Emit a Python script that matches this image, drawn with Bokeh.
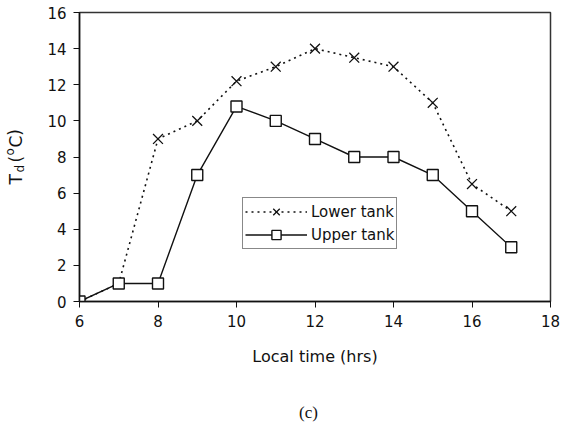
from bokeh.plotting import figure
from bokeh.layouts import column, row
from bokeh.models import Range1d, Legend, LegendItem, FixedTicker
from bokeh.core.properties import value
from bokeh.embed import file_html
from bokeh.resources import INLINE

# Hourly readings (local time) of the temperature difference Td in two tanks
hours = [6, 7, 8, 9, 10, 11, 12, 13, 14, 15, 16, 17]
lower_tank = [0, 1, 9, 10, 12.2, 13, 14, 13.5, 13, 11, 6.5, 5]
upper_tank = [0, 1, 1, 7, 10.8, 10, 9, 8, 8, 7, 5, 3]

x_ticks = [6, 8, 10, 12, 14, 16, 18]
y_ticks = [0, 2, 4, 6, 8, 10, 12, 14, 16]

W, H = 566, 424
YLAB_W = 30          # strip holding the rotated y title
CAP_H = 44           # strip holding the panel caption
MAIN_W, MAIN_H = W - YLAB_W, H - CAP_H
TOP_B, BOT_B = 12, MAIN_H - 301

FONT = "DejaVu Sans"
INK = "#111111"

p = figure(width=MAIN_W, height=MAIN_H, output_backend="svg",
           toolbar_location=None,
           x_range=Range1d(6, 18), y_range=Range1d(0, 16))
p.min_border_left = 79 - YLAB_W
p.min_border_right = 16
p.min_border_top = TOP_B
p.min_border_bottom = BOT_B
p.background_fill_color = "white"
p.border_fill_color = "white"
p.outline_line_color = "#333333"
p.outline_line_width = 1.5
p.xgrid.visible = False
p.ygrid.visible = False

for ax in (p.xaxis[0], p.yaxis[0]):
    ax.axis_line_color = INK
    ax.axis_line_width = 1.5
    ax.major_tick_line_color = INK
    ax.major_tick_in = 0
    ax.major_tick_out = 6
    ax.minor_tick_line_color = None
    ax.major_label_text_font = FONT
    ax.major_label_text_font_size = "15px"
    ax.major_label_text_color = INK

p.xaxis.ticker = FixedTicker(ticks=x_ticks)
p.yaxis.ticker = FixedTicker(ticks=y_ticks)
p.xaxis.major_label_standoff = 7
p.yaxis.major_label_standoff = 7
p.xaxis.axis_label = "Local time (hrs)"
p.xaxis.axis_label_text_font = FONT
p.xaxis.axis_label_text_font_size = "16px"
p.xaxis.axis_label_text_font_style = "normal"
p.xaxis.axis_label_text_color = INK
p.xaxis.axis_label_standoff = 17

# Lower tank: dotted line with crosses
l_line = p.line(hours, lower_tank, line_color=INK, line_width=1.6,
                line_dash="2 4")
l_mark = p.scatter(hours, lower_tank, marker="x", size=14,
                   line_color=INK, line_width=1.3)

# Upper tank: solid line with open squares
u_line = p.line(hours, upper_tank, line_color=INK, line_width=1.4)
u_mark = p.scatter(hours, upper_tank, marker="square", size=11,
                   fill_color="white", line_color=INK, line_width=1.4)

legend = Legend(items=[
    LegendItem(label="Lower tank", renderers=[l_line, l_mark]),
    LegendItem(label="Upper tank", renderers=[u_line, u_mark]),
], location=(163, 52))
legend.label_text_font = FONT
legend.label_text_font_size = "15px"
legend.label_text_color = INK
legend.glyph_width = 62
legend.glyph_height = 23
legend.label_height = 23
legend.label_standoff = 4
legend.spacing = 0
legend.padding = 2
legend.margin = 0
legend.border_line_color = INK
legend.border_line_width = 1.2
legend.background_fill_color = "white"
legend.background_fill_alpha = 1.0
p.add_layout(legend, "center")


def text_strip(w, h, top=0, bottom=0):
    """A bare figure whose data units are page pixels (y counted upward)."""
    f = figure(width=w, height=h, output_backend="svg", toolbar_location=None,
               x_range=Range1d(0, w), y_range=Range1d(bottom, h - top),
               x_axis_location=None, y_axis_location=None, min_border=0)
    f.min_border_top = top
    f.min_border_bottom = bottom
    f.outline_line_color = None
    f.xgrid.visible = False
    f.ygrid.visible = False
    f.background_fill_color = "white"
    f.border_fill_color = "white"
    return f


# Rotated y-axis title: T_d (°C) with subscript d and superscript o
ylab = text_strip(YLAB_W, MAIN_H, top=TOP_B, bottom=BOT_B)
ylabel_parts = [
    ("T", "17px", 15, 184),
    ("d", "12px", 19, 172),
    ("(", "17px", 15, 162),
    ("o", "12px", 9, 155),
    ("C)", "17px", 15, 147),
]
for txt, size, sx, sy in ylabel_parts:
    ylab.text(x=[sx], y=[MAIN_H - sy], text=[txt], angle=1.5708,
              text_font=value(FONT), text_font_size=value(size),
              text_color=INK, text_align="left",
              text_baseline="alphabetic")

# Panel caption under the chart
cap = text_strip(W, CAP_H)
cap.text(x=[308], y=[H - 412], text=["(c)"],
         text_font=value("Liberation Serif"), text_font_size=value("17px"),
         text_color=INK, text_align="center", text_baseline="middle")

layout = column(row(ylab, p, spacing=0), cap, spacing=0)
open("out.html", "w").write(file_html(layout, INLINE))
